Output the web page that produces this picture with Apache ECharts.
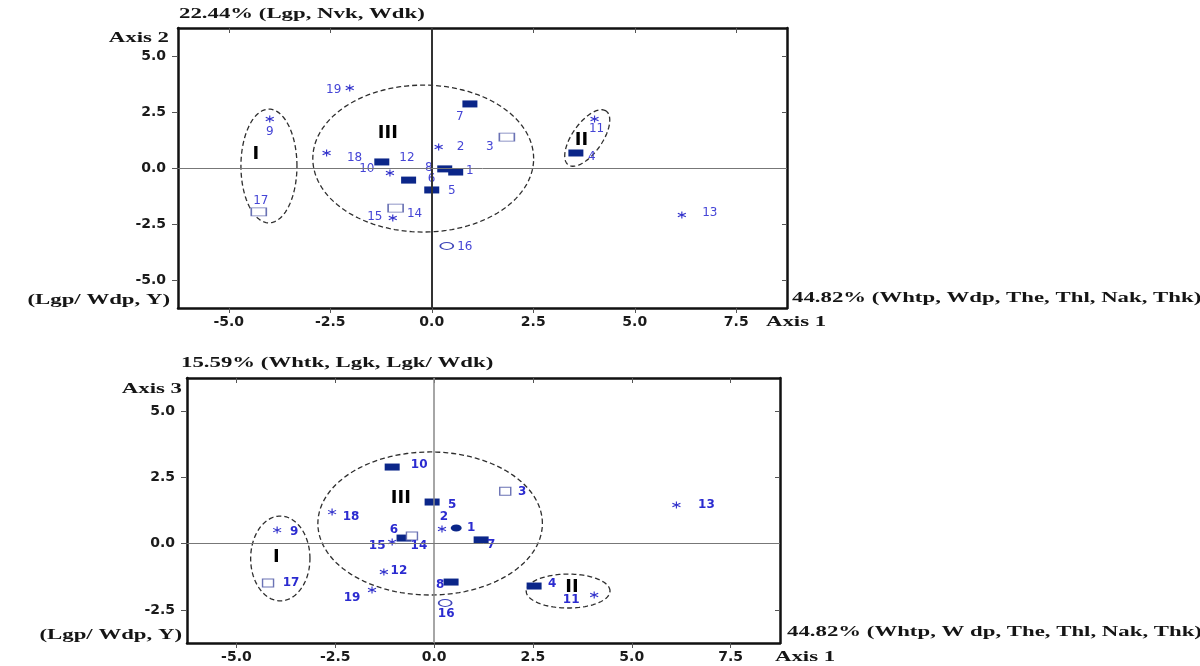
<!DOCTYPE html>
<html>
<head>
<meta charset="utf-8">
<script src="https://cdn.jsdelivr.net/npm/echarts@6/dist/echarts.min.js"></script>
<style>
  html, body { margin: 0; padding: 0; background: #fff; }
  #chart { width: 1200px; height: 666px; }
</style>
</head>
<body>
<div id="chart"></div>
<script>
// ---- data -------------------------------------------------------------
// Accession numbers shown in both panels
const accessions = ['1','2','3','4','5','6','7','8','9','10','11','12','13','14','15','16','17','18','19'];

// Marker kind for each accession (filled bar, open box, star, ring, dot)
const kindsTop    = ['filled','star','open','filled','filled','filled','filled','filled','star','filled','star','star','star','open','star','ring','open','star','star'];
const kindsBottom = ['dot','star','open','filled','filled','filled','filled','filled','star','filled','star','star','star','open','star','ring','open','star','star'];

// Panel 1: scores on Axis 1 and Axis 2
const axis1Top = [0.59, 0.17, 1.85, 3.55, 0.00, -0.57, 0.94, 0.32, -3.99, -1.23, 4.01, -1.03, 6.16, -0.89, -0.96, 0.37, -4.26, -2.59, -2.02];
const axis2Top = [-0.18, 0.94, 1.38, 0.67, -0.98, -0.54, 2.86, -0.04, 2.19, 0.27, 2.19, -0.22, -2.10, -1.79, -2.23, -3.48, -1.96, 0.67, 3.57];

// Panel 2: scores on Axis 1 and Axis 3
const axis1Bottom = [0.56, 0.20, 1.80, 2.53, -0.05, -0.76, 1.19, 0.43, -3.97, -1.06, 4.05, -1.27, 6.13, -0.56, -1.06, 0.28, -4.20, -2.58, -1.57];
const axis3Bottom = [0.59, 0.55, 1.98, -1.60, 1.57, 0.21, 0.14, -1.45, 0.51, 2.89, -1.94, -1.07, 1.46, 0.29, 0.06, -2.24, -1.49, 1.19, -1.75];

// Cluster names and where their numerals sit
const clusterNames = ['I', 'II', 'III'];
const clusterTopX = [-4.33, 3.69, -1.08];
const clusterTopY = [0.63, 1.25, 1.56];
const clusterBottomX = [-3.99, 3.49, -0.84];
const clusterBottomY = [-0.51, -1.64, 1.72];

// Cluster outlines: centre, half-widths (data units) and tilt (degrees)
const hullTopCx = [-4.01, 3.83, -0.21];
const hullTopCy = [0.09, 1.34, 0.42];
const hullTopRx = [0.69, 0.81, 2.72];
const hullTopRy = [2.54, 0.67, 3.28];
const hullTopRot = [0, 55, 0];
const hullBottomCx = [-3.89, 3.39, -0.10];
const hullBottomCy = [-0.56, -1.79, 0.76];
const hullBottomRx = [0.75, 1.06, 2.84];
const hullBottomRy = [1.60, 0.64, 2.70];
const hullBottomRot = [0, 0, 0];

// Tick labels
const axis1Ticks = [-5, -2.5, 0, 2.5, 5, 7.5];
const axis2Ticks = [-5, -2.5, 0, 2.5, 5];
const axis3Ticks = [-2.5, 0, 2.5, 5];

// ---- label placement (pixel offsets from each marker) ------------------
const labelOffsetTop = [[14,-1],[22,0],[-17,10],[16,4],[20,1],[23,-1],[-10,13],[-16,-1],[0,13],[-15,7],[2,10],[17,-15],[28,-2],[19,6],[-18,-1],[18,1],[2,-11],[28,5],[-16,2]];
const labelOffsetBottom = [[15,0],[2,-12],[17,1],[18,-2],[20,3],[-10,-8],[10,5],[-11,3],[17,2],[27,-2],[-23,5],[15,-1],[30,0],[7,10],[-15,4],[1,11],[23,0],[19,5],[-20,8]];

// ---- styles ------------------------------------------------------------
const NAVY = '#0b2689';
const STAR = '#3434cc';
const starPath = 'path://M5,0L5,10M0.67,2.5L9.33,7.5M0.67,7.5L9.33,2.5';
const ovalPath = 'path://M0,5A7,5 0 1 1 14,5A7,5 0 1 1 0,5Z';

function markerStyle(kind, panel) {
  switch (kind) {
    case 'filled': return { symbol: 'rect', symbolSize: [15, 7], itemStyle: { color: NAVY, opacity: 1 } };
    case 'open':   return { symbol: 'rect', symbolSize: panel === 0 ? [15, 8] : [11, 8],
                            itemStyle: { color: '#fff', borderColor: '#6a72b4', borderWidth: 1.2, opacity: 1 } };
    case 'star':   return { symbol: starPath, symbolSize: [8, 7],
                            itemStyle: { color: STAR, borderColor: STAR, borderWidth: 1.1, opacity: 1 } };
    case 'ring':   return { symbol: ovalPath, symbolSize: [13, 7],
                            itemStyle: { color: '#fff', borderColor: '#3d44b8', borderWidth: 1.3, opacity: 1 } };
    case 'dot':    return { symbol: ovalPath, symbolSize: [11, 7], itemStyle: { color: NAVY, opacity: 1 } };
  }
}

function pointSeries(panel, xs, ys, kinds, offsets, labelFont, labelColor) {
  const kindsUsed = ['filled', 'open', 'star', 'ring', 'dot'];
  return kindsUsed.map(kind => {
    const data = [];
    accessions.forEach((id, i) => {
      if (kinds[i] === kind) {
        data.push({ name: id, value: [xs[i], ys[i]], label: { offset: offsets[i] } });
      }
    });
    return Object.assign({
      type: 'scatter',
      xAxisIndex: panel * 2,
      yAxisIndex: panel * 2,
      silent: true,
      z: 4,
      data: data,
      label: {
        show: true, position: 'inside', formatter: '{b}',
        color: labelColor, fontFamily: 'DejaVu Sans', fontSize: 12, fontWeight: labelFont
      }
    }, markerStyle(kind, panel));
  }).filter(s => s.data.length);
}

function hullSeries(panel, cx, cy, rx, ry, rot) {
  return {
    type: 'custom',
    xAxisIndex: panel * 2,
    yAxisIndex: panel * 2,
    silent: true,
    z: 2,
    encode: { x: 0, y: 1 },
    data: cx.map((v, i) => [v, cy[i], rx[i], ry[i], rot[i]]),
    renderItem: function (params, api) {
      const c = api.coord([api.value(0), api.value(1)]);
      const s = api.size([api.value(2), api.value(3)]);
      const a = api.value(4) * Math.PI / 180;
      const pts = [];
      for (let k = 0; k <= 120; k++) {
        const t = k / 120 * Math.PI * 2;
        const ex = s[0] * Math.cos(t), ey = s[1] * Math.sin(t);
        pts.push([c[0] + ex * Math.cos(a) - ey * Math.sin(a),
                  c[1] - (ex * Math.sin(a) + ey * Math.cos(a))]);
      }
      return {
        type: 'polyline',
        shape: { points: pts },
        style: { stroke: '#2e2e2e', lineWidth: 1.3, lineDash: [5, 3], fill: null }
      };
    }
  };
}

function clusterSeries(panel, xs, ys, zeroV, zeroH) {
  return {
    type: 'scatter',
    xAxisIndex: panel * 2,
    yAxisIndex: panel * 2,
    silent: true,
    symbolSize: 0,
    itemStyle: { opacity: 1 },
    z: 5,
    data: clusterNames.map((n, i) => ({ name: n, value: [xs[i], ys[i]] })),
    label: {
      show: true, position: 'inside', formatter: '{b}',
      color: '#000', fontFamily: 'DejaVu Sans', fontSize: 18, fontWeight: 'bold'
    },
    markLine: {
      silent: true, symbol: 'none', animation: false,
      label: { show: false },
      data: [
        { xAxis: 0, lineStyle: zeroV },
        { yAxis: 0, lineStyle: zeroH }
      ]
    }
  };
}

const tickFont = { color: '#1b1b1b', fontFamily: 'DejaVu Sans', fontSize: 14, fontWeight: 'bold' };
const frame = { show: true, onZero: false, lineStyle: { color: '#111', width: 2.5 } };
const fmt = v => v.toFixed(1);

function xAxes(grid, ticks) {
  return [
    { type: 'value', gridIndex: grid, position: 'bottom', min: -6.25, max: 8.75,
      axisLine: frame, splitLine: { show: false },
      axisTick: { show: true, customValues: ticks, length: 5, lineStyle: { color: '#555', width: 1 } },
      axisLabel: Object.assign({ customValues: ticks, formatter: fmt, margin: 7 }, tickFont) },
    { type: 'value', gridIndex: grid, position: 'top', min: -6.25, max: 8.75,
      axisLine: frame, splitLine: { show: false },
      axisTick: { show: true, inside: true, customValues: ticks, length: 5, lineStyle: { color: '#555', width: 1 } },
      axisLabel: { show: false } }
  ];
}

function yAxes(grid, min, max, ticks) {
  return [
    { type: 'value', gridIndex: grid, position: 'left', min: min, max: max,
      axisLine: frame, splitLine: { show: false },
      axisTick: { show: true, customValues: ticks, length: 6, lineStyle: { color: '#555', width: 1 } },
      axisLabel: Object.assign({ customValues: ticks, formatter: fmt, margin: 12 }, tickFont) },
    { type: 'value', gridIndex: grid, position: 'right', min: min, max: max,
      axisLine: frame, splitLine: { show: false },
      axisTick: { show: true, inside: true, customValues: ticks, length: 5, lineStyle: { color: '#555', width: 1 } },
      axisLabel: { show: false } }
  ];
}

function caption(text, x, y, align) {
  return {
    type: 'text', x: x, y: y, scaleX: 1.52, silent: true,
    style: { text: text, x: 0, y: 0, fill: '#151515', align: align, verticalAlign: 'middle',
             font: 'bold 15px "Liberation Serif"' }
  };
}

const option = {
  backgroundColor: '#fff',
  animation: false,
  grid: [
    { left: 178, top: 28, width: 609, height: 280 },
    { left: 187, top: 378, width: 593, height: 265 }
  ],
  xAxis: xAxes(0, axis1Ticks).concat(xAxes(1, axis1Ticks)),
  yAxis: yAxes(0, -6.25, 6.25, axis2Ticks).concat(yAxes(1, -3.75, 6.25, axis3Ticks)),
  graphic: [
    caption('22.44% (Lgp, Nvk, Wdk)', 179, 14, 'left'),
    caption('Axis 2', 169, 38, 'right'),
    caption('(Lgp/ Wdp, Y)', 170, 300, 'right'),
    caption('44.82% (Whtp, Wdp, The, Thl, Nak, Thk)', 792, 298, 'left'),
    caption('Axis 1', 766, 322, 'left'),
    caption('15.59% (Whtk, Lgk, Lgk/ Wdk)', 181, 363, 'left'),
    caption('Axis 3', 182, 389, 'right'),
    caption('(Lgp/ Wdp, Y)', 182, 635, 'right'),
    caption('44.82% (Whtp, W dp, The, Thl, Nak, Thk)', 787, 632, 'left'),
    caption('Axis 1', 775, 657, 'left')
  ],
  series: [].concat(
    [hullSeries(0, hullTopCx, hullTopCy, hullTopRx, hullTopRy, hullTopRot)],
    [clusterSeries(0, clusterTopX, clusterTopY,
      { color: '#333', width: 2, type: 'solid' }, { color: '#777', width: 1, type: 'solid' })],
    pointSeries(0, axis1Top, axis2Top, kindsTop, labelOffsetTop, 'normal', '#4545d6'),
    [hullSeries(1, hullBottomCx, hullBottomCy, hullBottomRx, hullBottomRy, hullBottomRot)],
    [clusterSeries(1, clusterBottomX, clusterBottomY,
      { color: '#888', width: 1.5, type: 'solid' }, { color: '#777', width: 1, type: 'solid' })],
    pointSeries(1, axis1Bottom, axis3Bottom, kindsBottom, labelOffsetBottom, 'bold', '#2b2bd0')
  )
};

const chart = echarts.init(document.getElementById('chart'));
chart.setOption(option);
</script>
</body>
</html>
